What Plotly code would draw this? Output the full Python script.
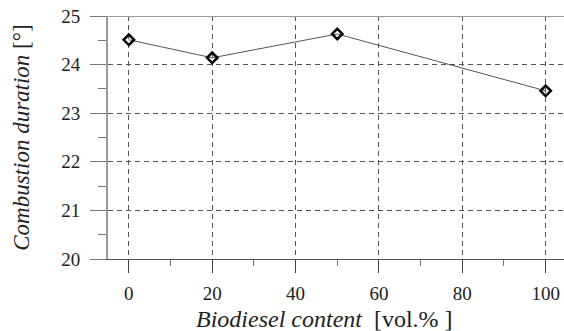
import plotly.graph_objects as go

biodiesel = [0, 20, 50, 100]
duration = [24.51, 24.14, 24.63, 23.46]
x_ticks = [0, 20, 40, 60, 80, 100]
y_ticks = [20, 21, 22, 23, 24, 25]

SERIF = "Liberation Serif, Times New Roman, DejaVu Serif, serif"

fig = go.Figure()
fig.add_trace(go.Scatter(
    x=biodiesel, y=duration, mode="lines+markers",
    line=dict(color="#555555", width=1),
    marker=dict(symbol="diamond-open", size=8, color="black", line=dict(width=2.5, color="black")),
    showlegend=False,
))

font = dict(family=SERIF, size=19, color="#222222")

fig.update_layout(
    width=564, height=331,
    margin=dict(l=108, r=0, t=16, b=72),
    paper_bgcolor="white", plot_bgcolor="white",
    font=font,
    xaxis=dict(
        range=[-5, 104.4], tickvals=x_ticks, ticks="outside", ticklen=13, tickwidth=1,
        tickcolor="#444444", showgrid=True, gridcolor="#555555", griddash="5px,4px", gridwidth=1,
        showline=True, linecolor="#555555", linewidth=1, zeroline=False,
        minor=dict(tickvals=[10, 30, 50, 70, 90], ticks="outside", ticklen=6, tickcolor="#777777", showgrid=False),
        tickfont=font, ticklabelstandoff=4, fixedrange=True,
    ),
    yaxis=dict(
        range=[20, 25], tickvals=y_ticks, ticks="outside", ticklen=16, tickwidth=1,
        tickcolor="#777777", showgrid=True, gridcolor="#555555", griddash="5px,4px", gridwidth=1,
        showline=True, linecolor="#999999", linewidth=2, zeroline=False,
        minor=dict(tickvals=[20.5, 21.5, 22.5, 23.5, 24.5], ticks="outside", ticklen=8, tickcolor="#777777", showgrid=False),
        tickfont=font, ticklabelstandoff=6, fixedrange=True,
    ),
    shapes=[dict(type="line", xref="paper", yref="y", x0=0, x1=1, y0=25, y1=25,
                 line=dict(color="#999999", width=2))],
    annotations=[
        dict(text="<i>Combustion duration</i> [°]", xref="paper", yref="paper",
             x=-0.189, y=0.498, xanchor="center", yanchor="middle", textangle=-90, showarrow=False,
             font=dict(family=SERIF, size=23, color="#222222")),
        dict(text="<i>Biodiesel content</i>&nbsp;&nbsp;[vol.% ]", xref="paper", yref="paper",
             x=0.4755, y=-0.247, xanchor="center", yanchor="middle", showarrow=False,
             font=dict(family=SERIF, size=24, color="#222222")),
    ],
)

fig.write_html("out.html", config={"displayModeBar": False},
               post_script="document.body.style.margin='0';")
